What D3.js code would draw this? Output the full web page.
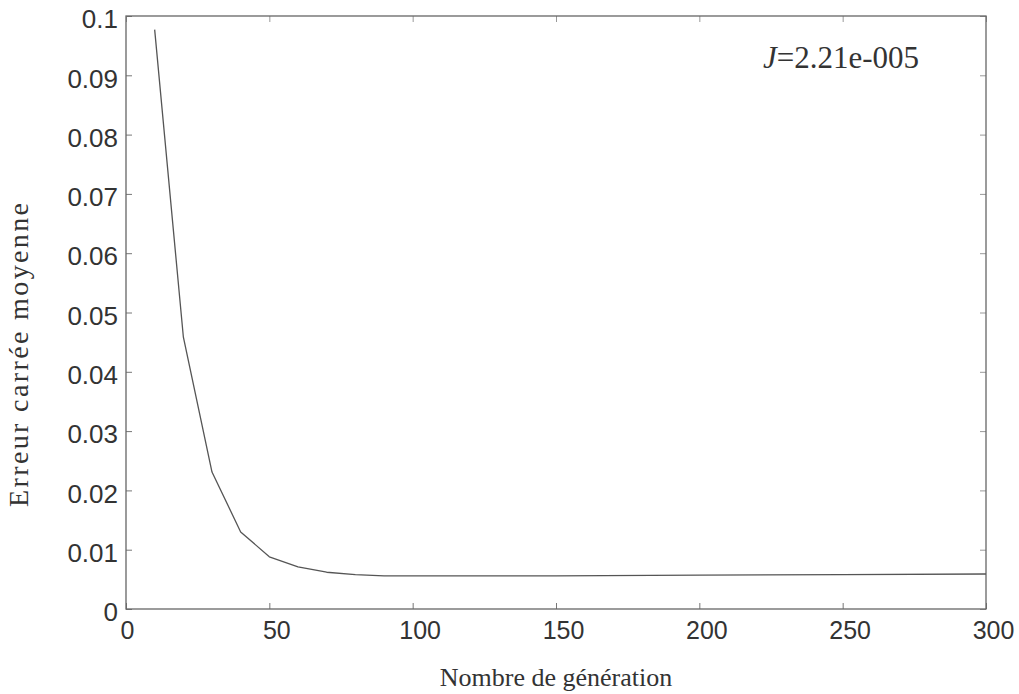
<!DOCTYPE html>
<html>
<head>
<meta charset="utf-8">
<script src="https://cdn.jsdelivr.net/npm/d3@7"></script>
<style>
  body { margin: 0; background: #fff; }
</style>
</head>
<body>
<script>
const width = 1019;
const height = 694;
const margin = {top: 16, right: 33, bottom: 85, left: 126};

// generations and mean squared error
const generations = [10, 20, 30, 40, 50, 60, 70, 80, 90, 100, 150, 200, 250, 300];
const mse = [0.0977, 0.0459, 0.0231, 0.0130, 0.0088, 0.0071, 0.0062, 0.0058, 0.0056, 0.0056, 0.0056, 0.0057, 0.0058, 0.0059];
const xTicks = [0, 50, 100, 150, 200, 250, 300];
const yTicks = [0, 0.01, 0.02, 0.03, 0.04, 0.05, 0.06, 0.07, 0.08, 0.09, 0.1];

const svg = d3.select('body')
      .append('svg')
      .attr('width', width)
      .attr('height', height);

const x = d3.scaleLinear()
      .domain([0, 300])
      .range([margin.left, width - margin.right]);

const y = d3.scaleLinear()
      .domain([0, 0.1])
      .range([height - margin.bottom, margin.top]);

const ink = "#333";
const tickLen = 6;

// bottom / left axes with labels, ticks pointing inward
svg.append("g")
    .attr("transform", `translate(0,${y(0)})`)
    .call(d3.axisBottom(x).tickValues(xTicks).tickSize(-tickLen).tickPadding(12).tickFormat(d3.format("d")))
    .call(g => g.select(".domain").remove())
    .call(g => g.selectAll("line").attr("stroke", "#777"))
    .call(g => g.selectAll("text")
	  .attr("dx", d => d === 0 ? 1 : 7)
	  .attr("fill", ink)
	  .attr("font-family", "Liberation Sans, Arial, sans-serif")
	  .attr("font-size", 25));

svg.append("g")
    .attr("transform", `translate(${x(0)},0)`)
    .call(d3.axisLeft(y).tickValues(yTicks).tickSize(-tickLen).tickPadding(8).tickFormat(d => d === 0 ? "0" : d3.format(".2~f")(d)))
    .call(g => g.select(".domain").remove())
    .call(g => g.selectAll("line").attr("stroke", "#777"))
    .call(g => g.selectAll("text")
	  .attr("dy", "0.45em")
	  .attr("fill", ink)
	  .attr("font-family", "Liberation Sans, Arial, sans-serif")
	  .attr("font-size", 26));

// top / right ticks without labels
svg.append("g")
    .attr("transform", `translate(0,${y(0.1)})`)
    .call(d3.axisTop(x).tickValues(xTicks).tickSize(-tickLen).tickFormat(""))
    .call(g => g.select(".domain").remove())
    .call(g => g.selectAll("line").attr("stroke", "#999"));

svg.append("g")
    .attr("transform", `translate(${x(300)},0)`)
    .call(d3.axisRight(y).tickValues(yTicks).tickSize(-tickLen).tickFormat(""))
    .call(g => g.select(".domain").remove())
    .call(g => g.selectAll("line").attr("stroke", "#999"));

// frame
svg.append("rect")
    .attr("x", x(0))
    .attr("y", y(0.1))
    .attr("width", x(300) - x(0))
    .attr("height", y(0) - y(0.1))
    .attr("fill", "none")
    .attr("stroke", "#666")
    .attr("stroke-width", 1.3);

// error curve
const line = d3.line()
      .x((d, i) => x(generations[i]))
      .y(d => y(d));

svg.append("path")
    .datum(mse)
    .attr("fill", "none")
    .attr("stroke", "#555")
    .attr("stroke-width", 1.3)
    .attr("stroke-linejoin", "round")
    .attr("d", line);

// annotation
const note = svg.append("text")
      .attr("x", 763)
      .attr("y", 68)
      .attr("fill", ink)
      .attr("font-family", "Liberation Serif, Times New Roman, serif")
      .attr("font-size", 31);
note.append("tspan").attr("font-style", "italic").text("J");
note.append("tspan").text("=2.21e-005");

// axis titles
svg.append("text")
    .attr("x", 556)
    .attr("y", 686)
    .attr("text-anchor", "middle")
    .attr("fill", ink)
    .attr("font-family", "Liberation Serif, Times New Roman, serif")
    .attr("font-size", 26)
    .text("Nombre de génération");

svg.append("text")
    .attr("transform", "translate(28,355) rotate(-90)")
    .attr("text-anchor", "middle")
    .attr("fill", ink)
    .attr("font-family", "Liberation Serif, Times New Roman, serif")
    .attr("font-size", 28)
    .attr("textLength", 304)
    .attr("lengthAdjust", "spacing")
    .text("Erreur carrée moyenne");
</script>
</body>
</html>
